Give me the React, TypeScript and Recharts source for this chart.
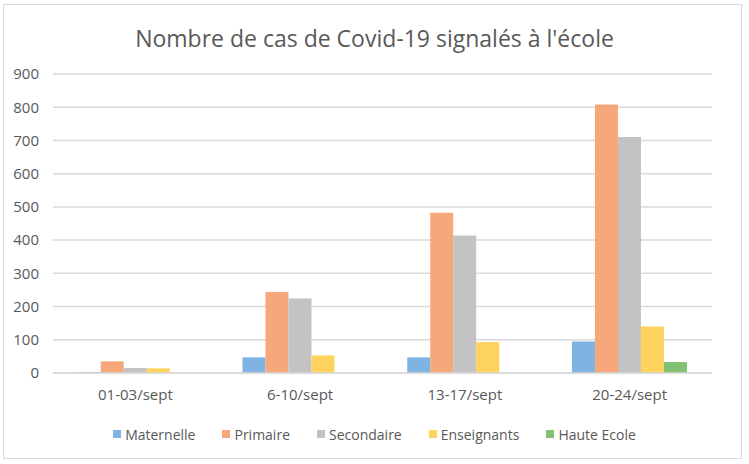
import React from 'react';
import { BarChart, Bar, XAxis, YAxis, CartesianGrid, Legend } from 'recharts';

const categories = ['01-03/sept', '6-10/sept', '13-17/sept', '20-24/sept'];
const maternelle = [3, 47, 47, 95];
const primaire = [35, 244, 482, 808];
const secondaire = [15, 224, 414, 710];
const enseignants = [14, 53, 93, 140];
const hauteEcole = [0, 0, 0, 33];
const yTicks = [0, 100, 200, 300, 400, 500, 600, 700, 800, 900];

const seriesNames = ['Maternelle', 'Primaire', 'Secondaire', 'Enseignants', 'Haute Ecole'];
const seriesColors = ['#7fb4e2', '#f7a87a', '#c3c3c3', '#fdd25d', '#82c173'];

const data = categories.map((c, i) => ({
  name: c,
  Maternelle: maternelle[i],
  Primaire: primaire[i],
  Secondaire: secondaire[i],
  Enseignants: enseignants[i],
  'Haute Ecole': hauteEcole[i],
}));

const FONT = '"Open Sans", "Liberation Sans", sans-serif';

const renderLegend = () => (
  <div style={{ display: 'flex', justifyContent: 'center', gap: 27, fontFamily: FONT, fontSize: 14, color: '#595959', height: 20, alignItems: 'center' }}>
    {seriesNames.map((s, i) => (
      <div key={s} style={{ display: 'flex', alignItems: 'center' }}>
        <span style={{ display: 'inline-block', width: 8, height: 8, background: seriesColors[i], marginRight: 4 }} />
        <span>{s}</span>
      </div>
    ))}
  </div>
);

export default function App() {
  return (
    <div style={{ position: 'absolute', left: 0, top: 0, width: 749, height: 464, background: '#fff', fontFamily: FONT }}>
      <div style={{ position: 'absolute', left: 3, top: 4, width: 739, height: 455, border: '1px solid #d9d9d9', boxSizing: 'border-box' }} />
      <div style={{ position: 'absolute', left: 0, top: 22, width: 749, textAlign: 'center', fontSize: 23, color: '#595959' }}>
        Nombre de cas de Covid-19 signalés à l'école
      </div>
      <div style={{ position: 'absolute', left: 0, top: 0 }}>
        <BarChart
          width={749}
          height={464}
          data={data}
          margin={{ top: 74, right: 37, bottom: 0, left: 0 }}
          barCategoryGap="15%"
          barGap={0}
        >
          <CartesianGrid vertical={false} stroke="#d9d9d9" strokeWidth={1.5} />
          <XAxis
            dataKey="name"
            axisLine={{ stroke: '#d9d9d9', strokeWidth: 1.5 }}
            tickLine={false}
            tick={{ fill: '#595959', fontSize: 15, fontFamily: FONT }}
            tickMargin={10}
            height={71}
          />
          <YAxis
            domain={[0, 900]}
            ticks={yTicks}
            axisLine={false}
            tickLine={false}
            tick={{ fill: '#595959', fontSize: 15, fontFamily: FONT }}
            width={53}
            tickMargin={8}
          />
          <Legend
            content={renderLegend}
            wrapperStyle={{ position: 'absolute', top: 424, left: 0, width: 749, height: 20 }}
          />
          {seriesNames.map((s, i) => (
            <Bar key={s} dataKey={s} fill={seriesColors[i]} isAnimationActive={false} />
          ))}
        </BarChart>
      </div>
    </div>
  );
}
